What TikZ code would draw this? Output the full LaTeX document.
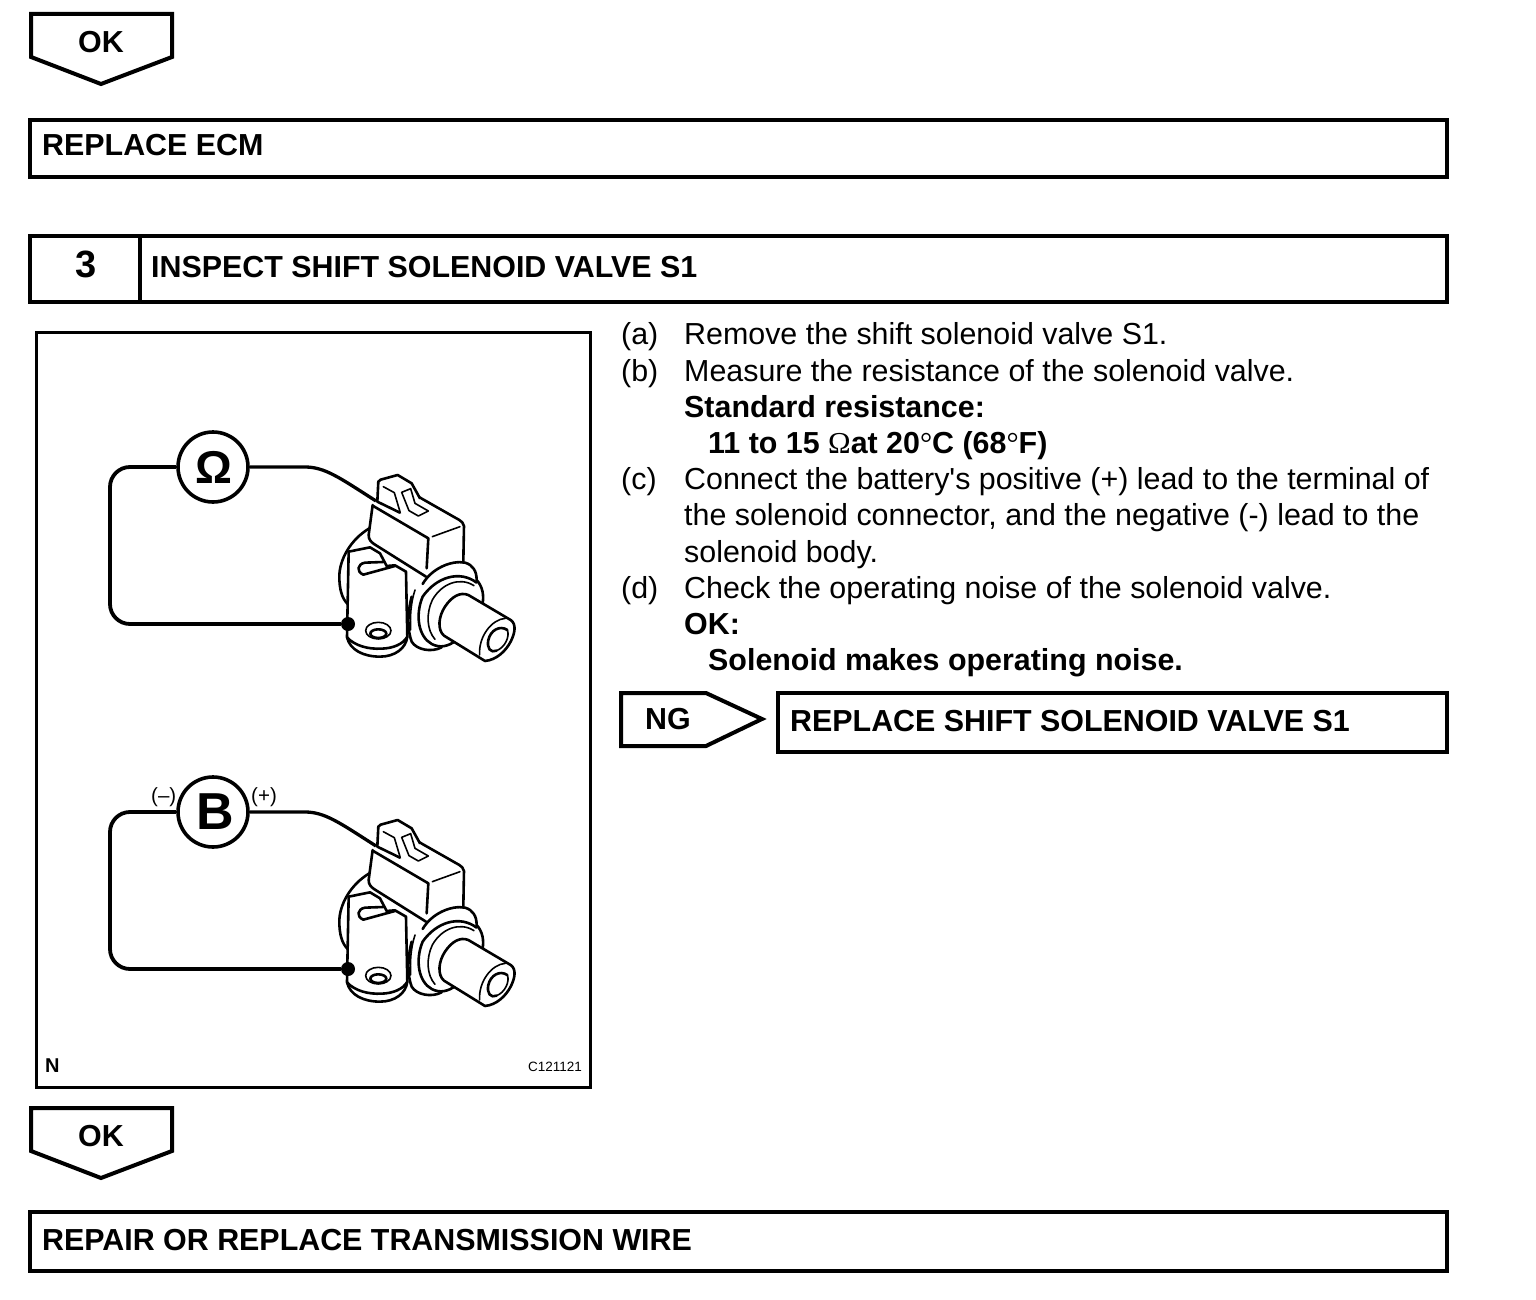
\documentclass[tikz,border=0pt]{standalone}
\usepackage{fontspec}
\setmainfont{Liberation Sans}
\newfontfamily\symfont{Liberation Serif}
\newcommand{\thinsym}[1]{{\symfont\mdseries #1}}
\begin{document}
\begin{tikzpicture}[x=1pt,y=-1pt,
  frame/.style={draw=black,line width=4pt,fill=white,line join=miter},
  thin frame/.style={draw=black,line width=3pt},
  tx/.style={anchor=base west,inner sep=0pt,font=\fontsize{30.4}{30.4}\selectfont},
  bf/.style={anchor=base west,inner sep=0pt,font=\fontsize{30.4}{30.4}\selectfont\bfseries},
  meter/.style={circle,draw=black,line width=3.6pt,fill=white,minimum size=70pt,inner sep=0pt},
  wire/.style={draw=black,line width=3.8pt,rounded corners=20pt},
  lead/.style={draw=black,line width=3.3pt},
  dot/.style={circle,fill=black,inner sep=0pt,minimum size=14pt},
  sol/.style={draw=black,line width=2.6pt,line join=round,line cap=round},
  soln/.style={draw=black,line width=1.6pt,line join=round,line cap=round}]
\useasboundingbox (0,0) rectangle (1536,1300);
\fill[white] (0,0) rectangle (1536,1300);

% OK 1
\draw[frame] (31,14) -- (172,14) -- (172,57) -- (101,84) -- (31,57) -- cycle;
\node[bf] (ok1) at (78,52.5) {OK};
\draw[frame] (30,120) rectangle (1447,177);
\node[bf] (ecm) at (42,155.5) {REPLACE ECM};

% header
\draw[frame] (30,236) rectangle (1447,302);
\draw[frame] (140,236) -- (140,302);
\node[bf,font=\fontsize{38}{38}\selectfont\bfseries] (num) at (75,277.5) {3};
\node[bf] (title) at (151,277) {INSPECT SHIFT SOLENOID VALVE S1};

% illustration frame
\draw[thin frame] (36,332) rectangle (590,1087);
\node[bf,font=\fontsize{20}{20}\selectfont\bfseries] (n) at (45,1072) {N};
\node[tx,font=\fontsize{13.5}{13.5}\selectfont] (code) at (528,1071) {C121121};

% solenoid drawings
\foreach \dy/\nm in {0/a,345/b}{
\begin{scope}[shift={(300,440+\dy)},x=0.3333pt,y=-0.3333pt]
  % round back of the body
  \draw[sol] (208,265) .. controls (150,300) and (118,360) .. (118,410) .. controls (118,445) and (125,475) .. (143,492);
  % lower body
  \draw[sol] (335,470) .. controls (322,520) and (322,570) .. (335,605) .. controls (350,630) and (395,638) .. (425,622);
  \draw[soln] (345,450) .. controls (332,490) and (330,530) .. (332,570);
  % bracket
  \draw[sol] (146,335) -- (141,592) .. controls (150,630) and (190,650) .. (240,650) .. controls (285,650) and (318,625) .. (322,590) -- (318,395) -- (285,376) -- (260,378) -- (240,340) -- (210,322) -- cycle;
  \draw[sol] (141,592) .. controls (165,618) and (205,628) .. (245,626) .. controls (280,625) and (310,612) .. (322,590);
  \draw[sol] (250,366) -- (195,368) .. controls (172,372) and (168,395) .. (190,404) -- (285,378);
  \draw[soln] (235,572) ellipse [x radius=38,y radius=25];
  \draw[sol] (235,581) ellipse [x radius=24,y radius=13];
  % connector block
  \fill[white] (218,195) -- (206,285) -- (222,312) -- (378,410) -- (490,365) -- (492,258) -- (355,170) -- (232,180) -- cycle;
  \draw[sol] (218,195) -- (206,285) .. controls (206,298) and (212,305) .. (222,312) -- (378,410);
  \draw[sol] (355,170) -- (478,240) .. controls (485,245) and (490,248) .. (492,258) -- (490,365);
  \draw[sol] (218,197) -- (385,295) -- (380,385);
  \draw[soln] (397,290) -- (480,260);
  % clip
  \fill[white] (232,185) -- (235,125) -- (293,105) -- (335,130) -- (360,175) -- (385,215) -- (355,228) -- (300,218) -- cycle;
  \draw[sol] (232,185) -- (235,125) .. controls (236,122) and (238,120) .. (242,119) -- (293,105) -- (335,130) -- (360,175);
  \draw[sol] (232,185) -- (300,218);
  \draw[soln] (250,140) -- (283,158) -- (300,215);
  \draw[soln] (305,157) -- (332,146) -- (345,190) -- (385,213) -- (355,228) -- (327,212) -- cycle;
  % flange
  \fill[white] (368,432) .. controls (395,385) and (455,360) .. (495,368) .. controls (520,375) and (530,395) .. (530,420) .. controls (548,440) and (552,465) .. (548,490) -- (470,600) .. controls (445,620) and (420,625) .. (395,612) .. controls (355,590) and (345,525) .. (368,470) -- cycle;
  \draw[sol] (368,432) .. controls (395,385) and (455,360) .. (495,368) .. controls (520,375) and (530,395) .. (530,420) .. controls (548,440) and (552,465) .. (548,490);
  \draw[sol] (530,428) .. controls (480,390) and (410,410) .. (368,470) .. controls (345,525) and (355,590) .. (395,612) .. controls (420,625) and (445,620) .. (470,600);
  \draw[soln] (522,437) .. controls (480,410) and (425,430) .. (397,480) .. controls (378,520) and (380,570) .. (405,598);
  % cylinder
  \draw[sol,fill=white] (505,465) -- (632,540) .. controls (650,552) and (645,580) .. (632,605) .. controls (618,632) and (590,660) .. (555,663) -- (432,587) .. controls (412,570) and (415,530) .. (435,500) .. controls (455,470) and (480,455) .. (505,465) -- cycle;
  \draw[soln] (616,535) .. controls (575,538) and (535,590) .. (539,645);
  \draw[sol] (622,570) .. controls (600,555) and (572,570) .. (565,600) .. controls (560,625) and (572,640) .. (590,632);
  \draw[soln] (622,570) .. controls (630,590) and (615,622) .. (590,632);
\end{scope}
\coordinate (tip\nm) at (376,{501+\dy});
\node[dot] (dot\nm) at (348,{624+\dy}) {};
}

% meters
\node[meter] (ohm) at (213,467) {};
\node[inner sep=0pt,font=\fontsize{46}{46}\selectfont\bfseries] (ohmt) at (214,467) {Ω};
\node[meter] (bat) at (213,812) {};
\node[inner sep=0pt,font=\fontsize{52}{52}\selectfont\bfseries] (batt) at (215,812) {B};
\draw[wire] (ohm.west) -- (110,467) -- (110,624) -- (dota.west);
\draw[wire] (bat.west) -- (110,812) -- (110,969) -- (dotb.west);
\draw[lead] (ohm.east) -- (305,467) .. controls (325,467) and (340,478) .. (tipa);
\draw[lead] (bat.east) -- (305,812) .. controls (325,812) and (340,823) .. (tipb);
\node[tx,font=\fontsize{20.5}{20.5}\selectfont] (minus) at (151,802) {(–)};
\node[tx,font=\fontsize{20.5}{20.5}\selectfont] (plus) at (251,802) {(+)};

% instructions
\node[tx] (la) at (621,344) {(a)};
\node[tx] (ta) at (684,344) {Remove the shift solenoid valve S1.};
\node[tx] (lb) at (621,381) {(b)};
\node[tx] (tb) at (684,381) {Measure the resistance of the solenoid valve.};
\node[bf] (sr) at (684,417) {Standard resistance:};
\node[bf] (srv) at (708,453) {11 to 15 \thinsym{Ω}at 20\thinsym{°}C (68\thinsym{°}F)};
\node[tx] (lc) at (621,489) {(c)};
\node[tx] (tc1) at (684,489) {Connect the battery\textquotesingle s positive (+) lead to the terminal of};
\node[tx] (tc2) at (684,525) {the solenoid connector, and the negative (-) lead to the};
\node[tx] (tc3) at (684,562) {solenoid body.};
\node[tx] (ld) at (621,598) {(d)};
\node[tx] (td) at (684,598) {Check the operating noise of the solenoid valve.};
\node[bf] (okl) at (684,634) {OK:};
\node[bf] (okv) at (708,670) {Solenoid makes operating noise.};

% NG
\draw[frame] (621,693) -- (706,693) -- (762,719) -- (706,746) -- (621,746) -- cycle;
\node[bf] (ng) at (645,729) {NG};
\draw[frame] (778,693) rectangle (1447,752);
\node[bf] (rs) at (790,731) {REPLACE SHIFT SOLENOID VALVE S1};

% OK 2
\draw[frame] (31,1108) -- (172,1108) -- (172,1151) -- (101,1178) -- (31,1151) -- cycle;
\node[bf] (ok2) at (78,1146) {OK};
\draw[frame] (30,1212) rectangle (1447,1271);
\node[bf] (rep) at (42,1250) {REPAIR OR REPLACE TRANSMISSION WIRE};
\end{tikzpicture}
\end{document}
